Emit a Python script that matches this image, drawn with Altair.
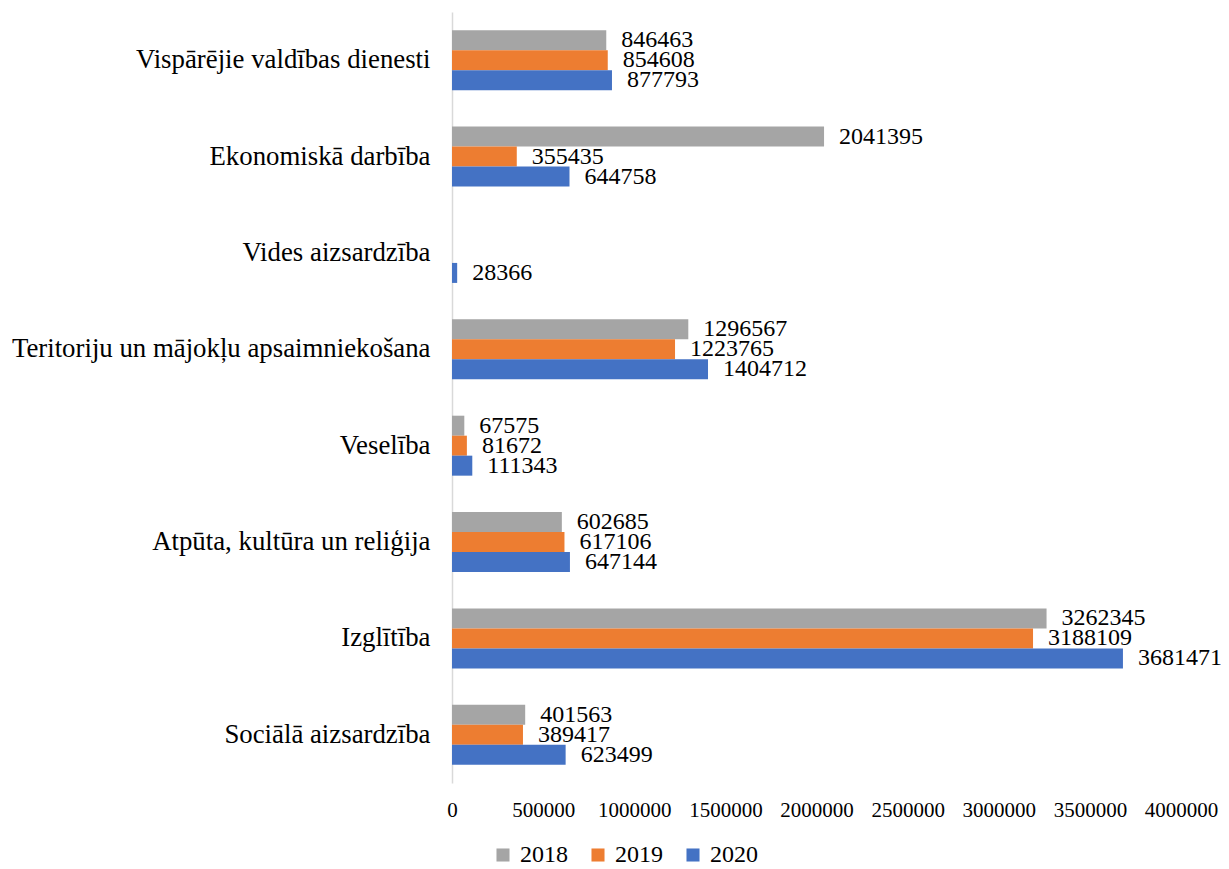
import altair as alt
import pandas as pd

categories = [
    "Vispārējie valdības dienesti",
    "Ekonomiskā darbība",
    "Vides aizsardzība",
    "Teritoriju un mājokļu apsaimniekošana",
    "Veselība",
    "Atpūta, kultūra un reliģija",
    "Izglītība",
    "Sociālā aizsardzība",
]
years = ["2018", "2019", "2020"]
v2018 = [846463, 2041395, None, 1296567, 67575, 602685, 3262345, 401563]
v2019 = [854608, 355435, None, 1223765, 81672, 617106, 3188109, 389417]
v2020 = [877793, 644758, 28366, 1404712, 111343, 647144, 3681471, 623499]
colors = ["#A5A5A5", "#ED7D31", "#4472C4"]
ticks = [0, 500000, 1000000, 1500000, 2000000, 2500000, 3000000, 3500000, 4000000]

rows = []
for year, vals in zip(years, [v2018, v2019, v2020]):
    for c, v in zip(categories, vals):
        if v is not None:
            rows.append({"category": c, "year": year, "value": v})
df = pd.DataFrame(rows)

FONT = "Liberation Serif"

y_enc = alt.Y(
    "category:N",
    sort=categories,
    scale=alt.Scale(paddingInner=0.378, paddingOuter=0.189),
    axis=alt.Axis(
        title=None,
        ticks=False,
        labelFont=FONT,
        labelFontSize=26.8,
        labelColor="#000000",
        labelPadding=22,
        domainColor="#d9d9d9",
        domainWidth=1.5,
        labelLimit=500,
    ),
)
x_enc = alt.X(
    "value:Q",
    scale=alt.Scale(domain=[0, 4000000], nice=False),
    axis=alt.Axis(
        title=None,
        values=ticks,
        format="d",
        grid=False,
        ticks=False,
        domain=False,
        labelFont=FONT,
        labelFontSize=21,
        labelColor="#000000",
        labelPadding=16,
        labelOverlap=False,
        labelFlush=False,
        labelBound=False,
    ),
)

base = alt.Chart(df).encode(
    y=y_enc,
    yOffset=alt.YOffset("year:N", sort=years),
)

bars = base.mark_bar(height=20).encode(
    x=x_enc,
    color=alt.Color(
        "year:N",
        scale=alt.Scale(domain=years, range=colors),
        legend=alt.Legend(
            title=None,
            orient="none",
            direction="horizontal",
            legendX=39,
            legendY=831,
            symbolType="square",
            symbolSize=170,
            symbolStrokeWidth=0,
            labelFont=FONT,
            labelFontSize=24,
            labelColor="#000000",
            columnPadding=18,
            labelOffset=5,
        ),
    ),
)

labels = base.mark_text(
    align="left", baseline="middle", dx=15, font=FONT, fontSize=24, color="#000000"
).encode(
    x=alt.X("value:Q"),
    text=alt.Text("value:Q", format="d"),
)

chart = (
    alt.layer(bars, labels)
    .properties(
        width=729,
        height=771,
        autosize=alt.AutoSizeParams(type="none"),
        padding={"left": 444, "top": 4, "right": 40, "bottom": 90},
        background="#ffffff",
    )
    .configure_view(stroke="transparent", strokeWidth=0)
)

chart.save("out.html", embed_options={"renderer": "svg", "actions": False})
